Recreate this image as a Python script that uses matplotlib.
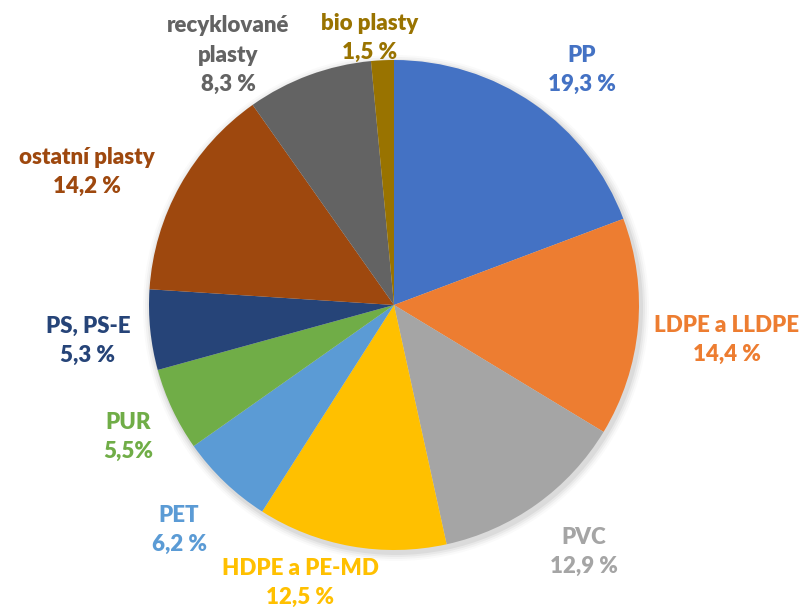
import matplotlib
matplotlib.use("Agg")
import matplotlib.pyplot as plt
from matplotlib.patches import Circle

# data (clockwise from 12 o'clock)
categories = ["PP", "LDPE a LLDPE", "PVC", "HDPE a PE-MD", "PET", "PUR",
              "PS, PS-E", "ostatní plasty", "recyklované\nplasty", "bio plasty"]
shares = [19.3, 14.4, 12.9, 12.5, 6.2, 5.5, 5.3, 14.2, 8.3, 1.5]
share_texts = ["19,3 %", "14,4 %", "12,9 %", "12,5 %", "6,2 %", "5,5%",
               "5,3 %", "14,2 %", "8,3 %", "1,5 %"]
colors = ["#4472C4", "#ED7D31", "#A5A5A5", "#FFC000", "#5B9BD5", "#70AD47",
          "#264478", "#9E480E", "#636363", "#997300"]

W, H = 802, 610
fig = plt.figure(figsize=(W / 100, H / 100), dpi=100)
ax = fig.add_axes([0, 0, 1, 1])

cx, cy, r = 394, H - 305, 245

# soft shadow around the pie
for i, a in enumerate([0.05, 0.04, 0.03, 0.02]):
    ax.add_patch(Circle((cx + 2, cy - 3), r + 2 + i * 2, color="black", alpha=a, lw=0, zorder=0))

ax.pie(shares, colors=colors, startangle=90, counterclock=False,
       center=(cx, cy), radius=r, frame=True,
       wedgeprops=dict(linewidth=0))
ax.set_xlim(0, W)
ax.set_ylim(0, H)
ax.set_aspect("equal")
ax.axis("off")

# label positions (pixel centres, top-left origin) - layout only
label_pos = [(582, 70), (727, 340), (584, 552), (300, 583), (179, 530),
             (128, 437), (88, 341), (87, 172), (228, 55), (370, 38)]

for name, txt, col, (x, y) in zip(categories, share_texts, colors, label_pos):
    ax.text(x, H - y, name + "\n" + txt, color=col, ha="center", va="center",
            fontsize=16, fontweight="heavy", family="Lato", linespacing=1.5)

fig.savefig("out.png", dpi=100)
